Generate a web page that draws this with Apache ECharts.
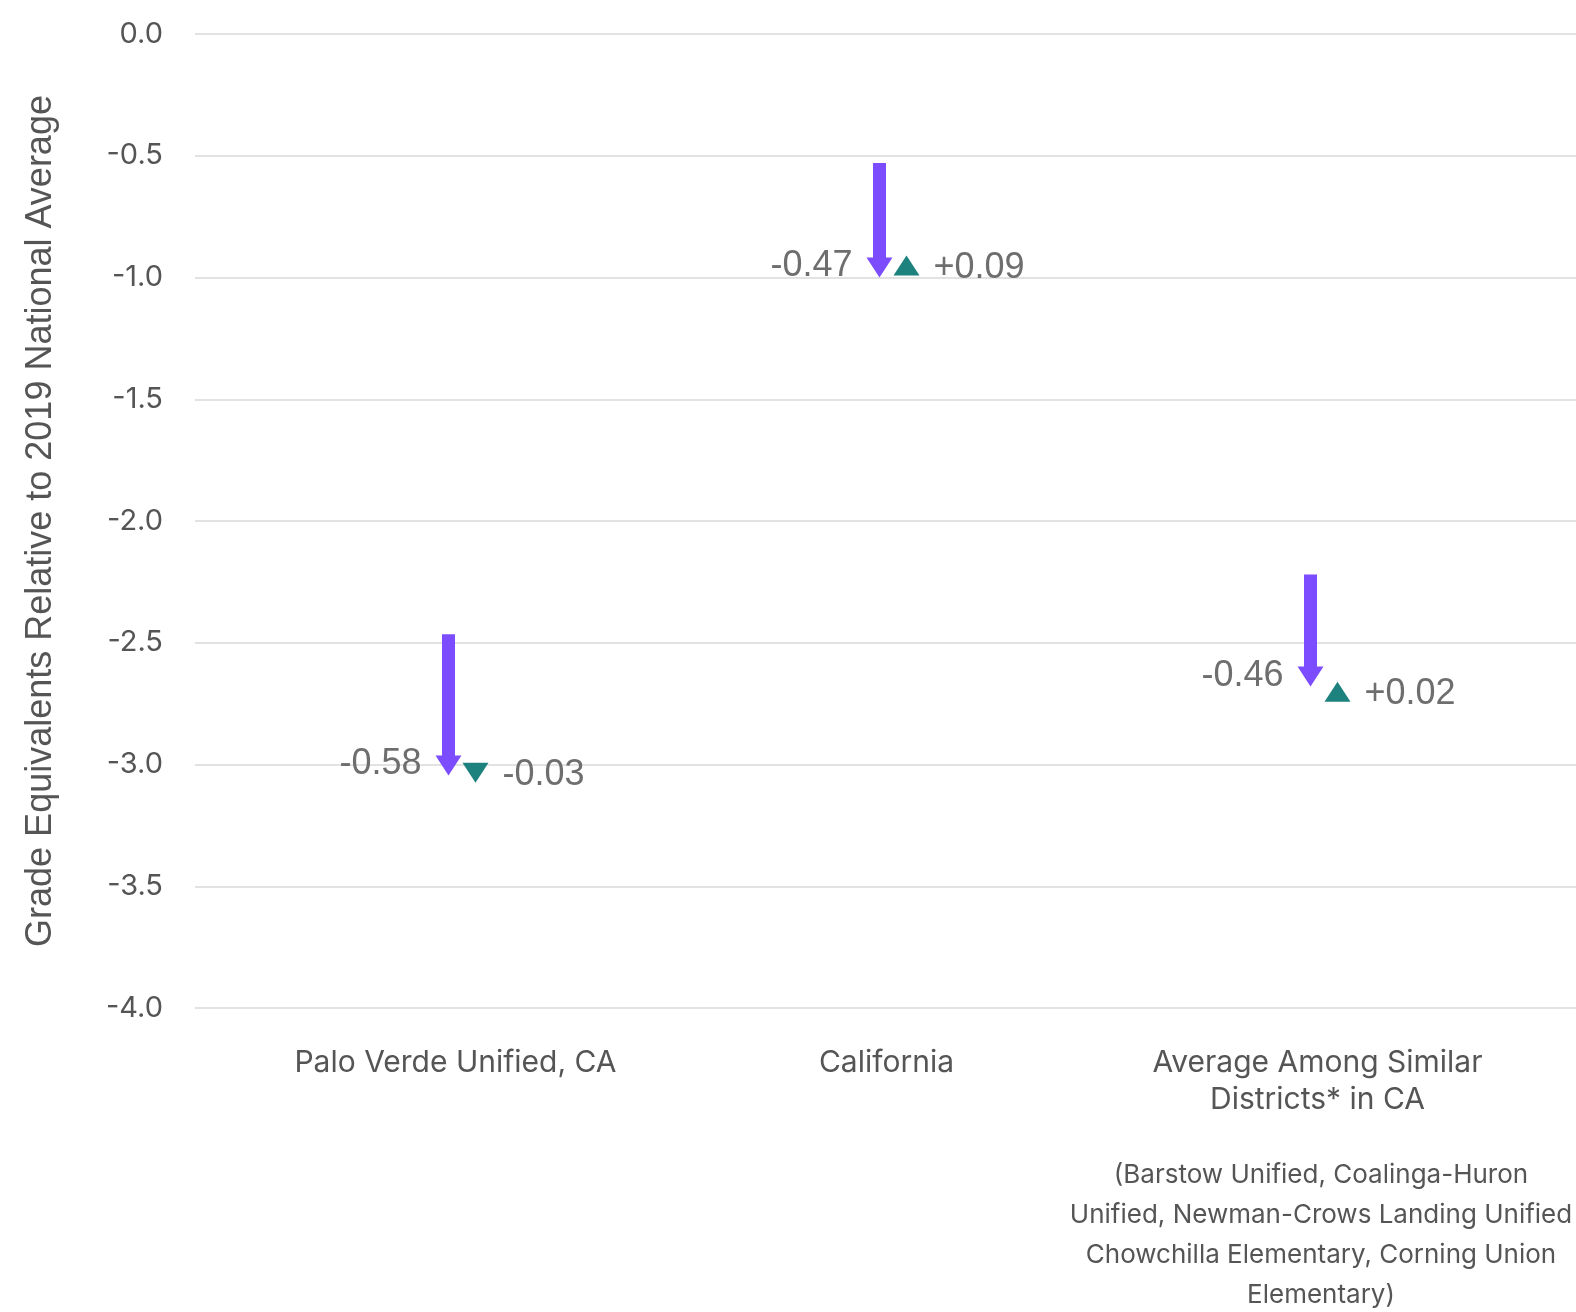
<!DOCTYPE html>
<html><head><meta charset="utf-8">
<script src="https://cdn.jsdelivr.net/npm/echarts@6/dist/echarts.min.js"></script>
<style>html,body{margin:0;padding:0;background:#fff}#c{width:1576px;height:1312px}</style>
</head><body><div id="c"></div>
<script>
const categories = ['Palo Verde Unified, CA', 'California', 'Average Among Similar\nDistricts* in CA'];
const startValues = [-2.465, -0.53, -2.22];
const firstChange = [-0.58, -0.47, -0.46];
const secondChange = [-0.03, 0.09, 0.02];
const firstLabels = ['-0.58', '-0.47', '-0.46'];
const secondLabels = ['-0.03', '+0.09', '+0.02'];
const yTicks = { min: -4, max: 0, interval: 0.5 };
const footnote = '(Barstow Unified, Coalinga-Huron\nUnified, Newman-Crows Landing Unified\nChowchilla Elementary, Corning Union\nElementary)';

const PURPLE = '#7c4dff', TEAL = '#1d817d', LABEL = '#6e6e6e';
const chart = echarts.init(document.getElementById('c'));
const gridTop = 34, gridBottom = 304;

const arrowData = categories.map((c, i) => [i, startValues[i], startValues[i] + firstChange[i]]);
const markData = categories.map((c, i) => [i, startValues[i] + firstChange[i] + secondChange[i], secondChange[i]]);

chart.setOption({
  animation: false,
  grid: [
    { left: 195, right: 0, top: gridTop, bottom: gridBottom },
    { left: 240, width: 1293, top: gridTop, bottom: gridBottom }
  ],
  xAxis: [
    { gridIndex: 0, type: 'value', min: 0, max: 1, show: false },
    { gridIndex: 1, type: 'category', data: categories,
      axisLine: { show: false }, axisTick: { show: false },
      axisLabel: { margin: 36, fontSize: 30, color: '#555', fontFamily: 'Inter', lineHeight: 37 } }
  ],
  yAxis: [
    { gridIndex: 0, type: 'value', min: yTicks.min, max: yTicks.max, interval: yTicks.interval,
      axisLine: { show: false }, axisTick: { show: false },
      axisLabel: { margin: 32, fontSize: 29, color: '#555', fontFamily: 'Inter',
        formatter: v => v.toFixed(1) },
      splitLine: { lineStyle: { color: '#e2e2e2', width: 2 } },
      name: 'Grade Equivalents Relative to 2019 National Average',
      nameLocation: 'middle', nameGap: 136,
      nameTextStyle: { fontSize: 36, color: '#555', fontFamily: 'Liberation Sans' } },
    { gridIndex: 1, type: 'value', min: yTicks.min, max: yTicks.max, interval: yTicks.interval, show: false }
  ],
  series: [
    { type: 'custom', xAxisIndex: 1, yAxisIndex: 1, data: arrowData,
      renderItem: (params, api) => {
        const s = api.coord([api.value(0), api.value(1)]);
        const e = api.coord([api.value(0), api.value(2)]);
        const x = s[0] - 7, y0 = s[1], y1 = e[1];
        const headH = 20, headW = 26, shaftW = 13;
        const i = params.dataIndex;
        return { type: 'group', children: [
          { type: 'rect', shape: { x: x - shaftW / 2, y: y0, width: shaftW, height: y1 - headH - y0 + 1 }, style: { fill: PURPLE } },
          { type: 'polygon', shape: { points: [[x - headW / 2, y1 - headH], [x + headW / 2, y1 - headH], [x, y1]] }, style: { fill: PURPLE } },
          { type: 'text', x: x - 27, y: y1 - 11, style: { text: firstLabels[i], fill: LABEL, fontSize: 36, fontFamily: 'Liberation Sans', align: 'right', verticalAlign: 'middle' } }
        ] };
      } },
    { type: 'custom', xAxisIndex: 1, yAxisIndex: 1, data: markData,
      renderItem: (params, api) => {
        const p = api.coord([api.value(0), api.value(1)]);
        const up = api.value(2) > 0;
        const x = p[0] + 20, y = p[1];
        const h = 20, w = 26;
        const base = up ? y + h : y - h;
        const i = params.dataIndex;
        return { type: 'group', children: [
          { type: 'polygon', shape: { points: [[x - w / 2, base], [x + w / 2, base], [x, y]] }, style: { fill: TEAL } },
          { type: 'text', x: x + 27, y: (y + base) / 2 + 2, style: { text: secondLabels[i], fill: LABEL, fontSize: 36, fontFamily: 'Liberation Sans', align: 'left', verticalAlign: 'middle' } }
        ] };
      } }
  ],
  graphic: [
    { type: 'text', x: 1321, y: 1155, style: { text: footnote, fill: '#555', fontSize: 26, fontFamily: 'Inter', lineHeight: 40, align: 'center' } }
  ]
});
</script></body></html>
